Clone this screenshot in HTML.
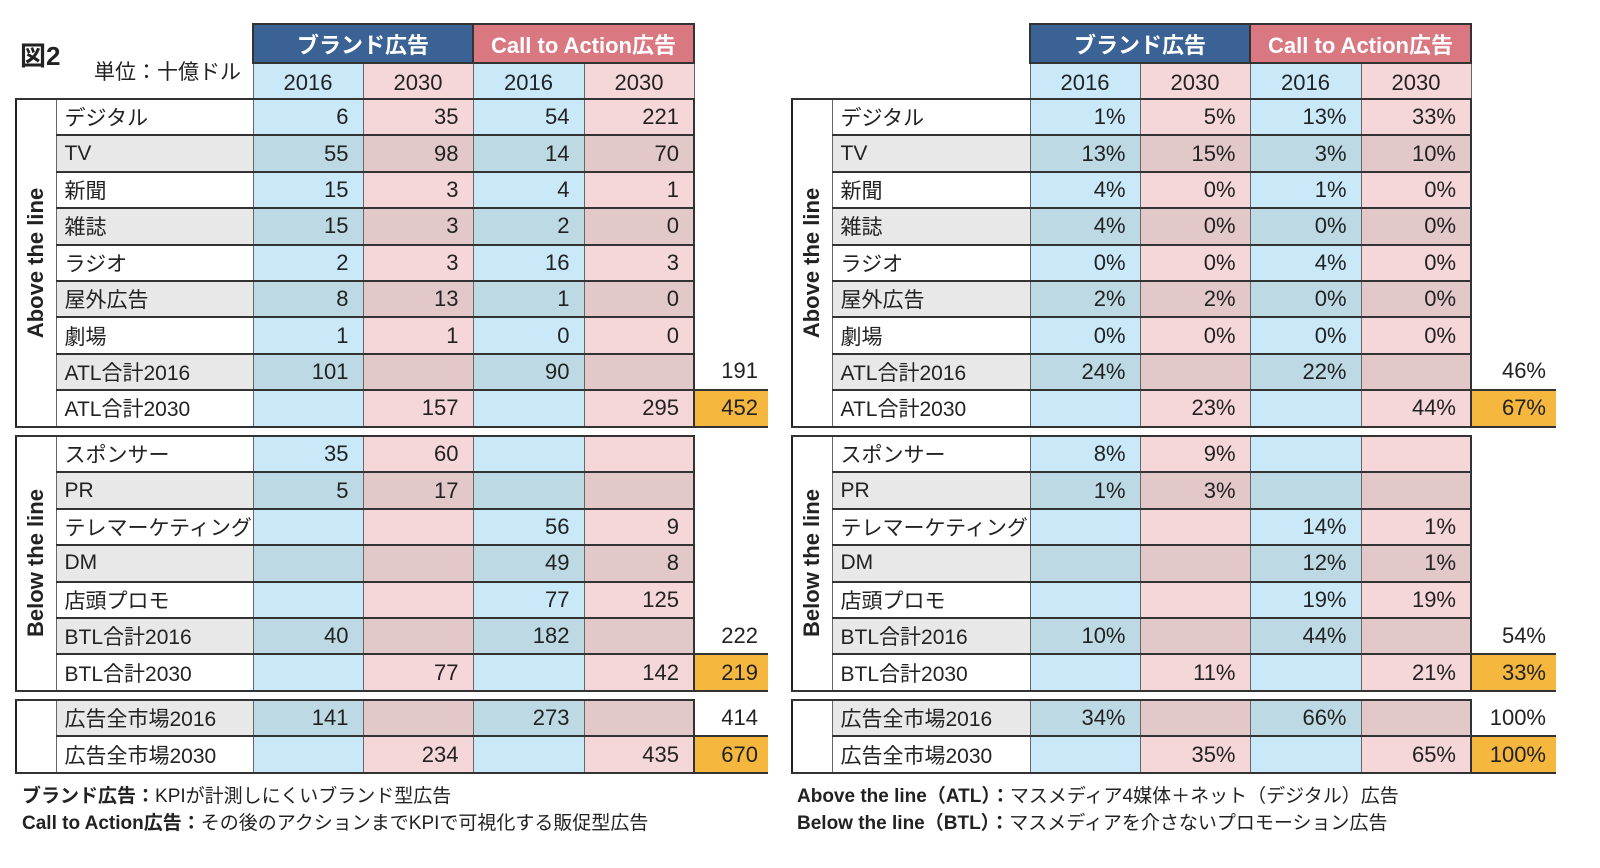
<!DOCTYPE html>
<html><head><meta charset="utf-8"><style>
body{margin:0;width:1600px;height:868px;background:#fff;position:relative;overflow:hidden;font-family:"Liberation Sans","Noto Sans CJK JP",sans-serif;color:#222}
.a{position:absolute}
table{border-collapse:collapse;table-layout:fixed;position:absolute}
td{padding:0 6px;height:34.4px;font-size:22px;border-top:2px solid #333;border-bottom:2px solid #333;border-left:1px solid #666;border-right:1px solid #666;white-space:nowrap;overflow:hidden}
td.n{text-align:right;padding-right:14px}
td.l{padding-left:8px;font-size:21px}
td.b{background:#c9e9f8}
td.p{background:#f6d7d9}
tr.g td.b{background:#bddae4}
tr.g td.p{background:#e3c8ca}
tr.g td.l{background:#e8e8e8}
td.s{border:none;border-left:2px solid #333;text-align:right;padding-right:10px;background:#fff}
td.o{background:#f5b73e;border-top:2px solid #333;border-bottom:2px solid #333}
td.v{border-left:2px solid #222;padding:0;position:relative;background:#fff}
td.v div{position:absolute;left:50%;top:50%;transform:translate(-50%,-50%) rotate(-90deg);font-weight:bold;font-size:22px;white-space:nowrap}
.hd td{height:37px;text-align:center;font-size:22px;padding:0}
.h1{color:#fff;font-weight:bold}
.fn{font-size:19px;line-height:27px}
</style></head><body>

<div class="a" style="left:20px;top:36px;font-size:26px;font-weight:bold">図2</div>
<div class="a" style="left:94px;top:56px;font-size:21px">単位：十億ドル</div>

<table class="hd" style="left:252px;top:23px;width:441px"><colgroup><col style="width:110px"><col style="width:110px"><col style="width:111px"><col style="width:110px"></colgroup>
<tr><td class="h1" colspan="2" style="background:#3b6294;border:2px solid #333">ブランド広告</td><td class="h1" colspan="2" style="background:#d97880;border:2px solid #333">Call to Action広告</td></tr>
<tr><td style="background:#c9e9f8;height:34px">2016</td><td style="background:#f6d7d9">2030</td><td style="background:#c9e9f8">2016</td><td style="background:#f6d7d9">2030</td></tr></table>

<table class="hd" style="left:1029px;top:23px;width:441px"><colgroup><col style="width:110px"><col style="width:110px"><col style="width:111px"><col style="width:110px"></colgroup>
<tr><td class="h1" colspan="2" style="background:#3b6294;border:2px solid #333">ブランド広告</td><td class="h1" colspan="2" style="background:#d97880;border:2px solid #333">Call to Action広告</td></tr>
<tr><td style="background:#c9e9f8;height:34px">2016</td><td style="background:#f6d7d9">2030</td><td style="background:#c9e9f8">2016</td><td style="background:#f6d7d9">2030</td></tr></table>

<table style="left:15px;top:98px;width:752px"><colgroup><col style="width:40px"><col style="width:197px"><col style="width:110px"><col style="width:110px"><col style="width:111px"><col style="width:110px"><col style="width:74px"></colgroup>
<tr><td class="v" rowspan="9"><div>Above the line</div></td><td class="l">デジタル</td><td class="b n">6</td><td class="p n">35</td><td class="b n">54</td><td class="p n">221</td><td class="s"></td></tr>
<tr class="g"><td class="l">TV</td><td class="b n">55</td><td class="p n">98</td><td class="b n">14</td><td class="p n">70</td><td class="s"></td></tr>
<tr><td class="l">新聞</td><td class="b n">15</td><td class="p n">3</td><td class="b n">4</td><td class="p n">1</td><td class="s"></td></tr>
<tr class="g"><td class="l">雑誌</td><td class="b n">15</td><td class="p n">3</td><td class="b n">2</td><td class="p n">0</td><td class="s"></td></tr>
<tr><td class="l">ラジオ</td><td class="b n">2</td><td class="p n">3</td><td class="b n">16</td><td class="p n">3</td><td class="s"></td></tr>
<tr class="g"><td class="l">屋外広告</td><td class="b n">8</td><td class="p n">13</td><td class="b n">1</td><td class="p n">0</td><td class="s"></td></tr>
<tr><td class="l">劇場</td><td class="b n">1</td><td class="p n">1</td><td class="b n">0</td><td class="p n">0</td><td class="s"></td></tr>
<tr class="g"><td class="l">ATL合計2016</td><td class="b n">101</td><td class="p n"></td><td class="b n">90</td><td class="p n"></td><td class="s">191</td></tr>
<tr><td class="l">ATL合計2030</td><td class="b n"></td><td class="p n">157</td><td class="b n"></td><td class="p n">295</td><td class="s o">452</td></tr>
</table>

<table style="left:15px;top:435px;width:752px"><colgroup><col style="width:40px"><col style="width:197px"><col style="width:110px"><col style="width:110px"><col style="width:111px"><col style="width:110px"><col style="width:74px"></colgroup>
<tr><td class="v" rowspan="7"><div>Below the line</div></td><td class="l">スポンサー</td><td class="b n">35</td><td class="p n">60</td><td class="b n"></td><td class="p n"></td><td class="s"></td></tr>
<tr class="g"><td class="l">PR</td><td class="b n">5</td><td class="p n">17</td><td class="b n"></td><td class="p n"></td><td class="s"></td></tr>
<tr><td class="l">テレマーケティング</td><td class="b n"></td><td class="p n"></td><td class="b n">56</td><td class="p n">9</td><td class="s"></td></tr>
<tr class="g"><td class="l">DM</td><td class="b n"></td><td class="p n"></td><td class="b n">49</td><td class="p n">8</td><td class="s"></td></tr>
<tr><td class="l">店頭プロモ</td><td class="b n"></td><td class="p n"></td><td class="b n">77</td><td class="p n">125</td><td class="s"></td></tr>
<tr class="g"><td class="l">BTL合計2016</td><td class="b n">40</td><td class="p n"></td><td class="b n">182</td><td class="p n"></td><td class="s">222</td></tr>
<tr><td class="l">BTL合計2030</td><td class="b n"></td><td class="p n">77</td><td class="b n"></td><td class="p n">142</td><td class="s o">219</td></tr>
</table>

<table style="left:15px;top:699px;width:752px"><colgroup><col style="width:40px"><col style="width:197px"><col style="width:110px"><col style="width:110px"><col style="width:111px"><col style="width:110px"><col style="width:74px"></colgroup>
<tr class="g"><td class="v" rowspan="2"></td><td class="l">広告全市場2016</td><td class="b n">141</td><td class="p n"></td><td class="b n">273</td><td class="p n"></td><td class="s">414</td></tr>
<tr><td class="l">広告全市場2030</td><td class="b n"></td><td class="p n">234</td><td class="b n"></td><td class="p n">435</td><td class="s o">670</td></tr>
</table>

<table style="left:791px;top:98px;width:764px"><colgroup><col style="width:40px"><col style="width:198px"><col style="width:110px"><col style="width:110px"><col style="width:111px"><col style="width:110px"><col style="width:85px"></colgroup>
<tr><td class="v" rowspan="9"><div>Above the line</div></td><td class="l">デジタル</td><td class="b n">1%</td><td class="p n">5%</td><td class="b n">13%</td><td class="p n">33%</td><td class="s"></td></tr>
<tr class="g"><td class="l">TV</td><td class="b n">13%</td><td class="p n">15%</td><td class="b n">3%</td><td class="p n">10%</td><td class="s"></td></tr>
<tr><td class="l">新聞</td><td class="b n">4%</td><td class="p n">0%</td><td class="b n">1%</td><td class="p n">0%</td><td class="s"></td></tr>
<tr class="g"><td class="l">雑誌</td><td class="b n">4%</td><td class="p n">0%</td><td class="b n">0%</td><td class="p n">0%</td><td class="s"></td></tr>
<tr><td class="l">ラジオ</td><td class="b n">0%</td><td class="p n">0%</td><td class="b n">4%</td><td class="p n">0%</td><td class="s"></td></tr>
<tr class="g"><td class="l">屋外広告</td><td class="b n">2%</td><td class="p n">2%</td><td class="b n">0%</td><td class="p n">0%</td><td class="s"></td></tr>
<tr><td class="l">劇場</td><td class="b n">0%</td><td class="p n">0%</td><td class="b n">0%</td><td class="p n">0%</td><td class="s"></td></tr>
<tr class="g"><td class="l">ATL合計2016</td><td class="b n">24%</td><td class="p n"></td><td class="b n">22%</td><td class="p n"></td><td class="s">46%</td></tr>
<tr><td class="l">ATL合計2030</td><td class="b n"></td><td class="p n">23%</td><td class="b n"></td><td class="p n">44%</td><td class="s o">67%</td></tr>
</table>

<table style="left:791px;top:435px;width:764px"><colgroup><col style="width:40px"><col style="width:198px"><col style="width:110px"><col style="width:110px"><col style="width:111px"><col style="width:110px"><col style="width:85px"></colgroup>
<tr><td class="v" rowspan="7"><div>Below the line</div></td><td class="l">スポンサー</td><td class="b n">8%</td><td class="p n">9%</td><td class="b n"></td><td class="p n"></td><td class="s"></td></tr>
<tr class="g"><td class="l">PR</td><td class="b n">1%</td><td class="p n">3%</td><td class="b n"></td><td class="p n"></td><td class="s"></td></tr>
<tr><td class="l">テレマーケティング</td><td class="b n"></td><td class="p n"></td><td class="b n">14%</td><td class="p n">1%</td><td class="s"></td></tr>
<tr class="g"><td class="l">DM</td><td class="b n"></td><td class="p n"></td><td class="b n">12%</td><td class="p n">1%</td><td class="s"></td></tr>
<tr><td class="l">店頭プロモ</td><td class="b n"></td><td class="p n"></td><td class="b n">19%</td><td class="p n">19%</td><td class="s"></td></tr>
<tr class="g"><td class="l">BTL合計2016</td><td class="b n">10%</td><td class="p n"></td><td class="b n">44%</td><td class="p n"></td><td class="s">54%</td></tr>
<tr><td class="l">BTL合計2030</td><td class="b n"></td><td class="p n">11%</td><td class="b n"></td><td class="p n">21%</td><td class="s o">33%</td></tr>
</table>

<table style="left:791px;top:699px;width:764px"><colgroup><col style="width:40px"><col style="width:198px"><col style="width:110px"><col style="width:110px"><col style="width:111px"><col style="width:110px"><col style="width:85px"></colgroup>
<tr class="g"><td class="v" rowspan="2"></td><td class="l">広告全市場2016</td><td class="b n">34%</td><td class="p n"></td><td class="b n">66%</td><td class="p n"></td><td class="s">100%</td></tr>
<tr><td class="l">広告全市場2030</td><td class="b n"></td><td class="p n">35%</td><td class="b n"></td><td class="p n">65%</td><td class="s o">100%</td></tr>
</table>

<div class="a fn" style="left:22px;top:783px"><b>ブランド広告：</b>KPIが計測しにくいブランド型広告<br><b>Call to Action広告：</b>その後のアクションまでKPIで可視化する販促型広告</div>
<div class="a fn" style="left:797px;top:783px"><b>Above the line（ATL）：</b>マスメディア4媒体＋ネット（デジタル）広告<br><b>Below the line（BTL）：</b>マスメディアを介さないプロモーション広告</div>
</body></html>
